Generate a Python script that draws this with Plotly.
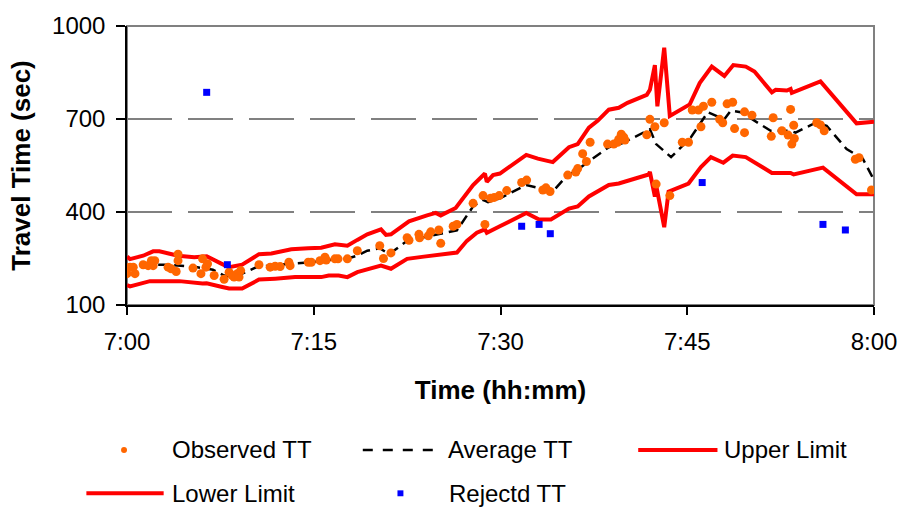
import plotly.graph_objects as go

# Time axis is expressed in minutes after 7:00
tick_minutes = [0, 15, 30, 45, 60]
tick_labels = ["7:00", "7:15", "7:30", "7:45", "8:00"]
y_ticks = [100, 400, 700, 1000]

# Observed travel times (sec)
obs_min = [0.0, 0.0, 0.24, 0.5, 0.64, 1.3, 1.7, 1.96, 2.1, 2.23, 3.3, 3.55, 3.95, 4.1, 4.1,
           5.3, 5.94, 6.07, 6.34, 6.47, 7.0, 7.8, 8.2, 8.46, 8.6, 8.86, 9.0, 9.13, 10.6, 11.5,
           11.9, 12.3, 13.0, 13.1, 14.56, 14.8, 15.5, 15.9, 16.0, 16.7, 16.95, 17.7, 18.5, 20.3,
           20.6, 21.2, 22.5, 22.65, 23.45, 23.5, 24.2, 24.4, 25.05, 25.2, 26.2, 26.5, 27.8, 28.6,
           28.75, 29.2, 29.5, 29.9, 30.5, 31.7, 32.1, 33.4, 33.65, 33.98, 35.4, 36.05, 36.2, 36.6,
           36.9, 37.2, 38.6, 39.1, 39.4, 39.5, 39.7, 39.9, 40.0, 41.75, 42.0, 42.4, 42.5, 43.15,
           43.6, 44.6, 45.1, 45.4, 45.9, 46.1, 46.3, 46.97, 47.6, 47.85, 48.2, 48.65, 48.8, 49.6,
           49.6, 50.2, 51.75, 51.9, 52.6, 53.1, 53.3, 53.4, 53.55, 53.6, 55.4, 55.7, 56.0, 58.5,
           58.8, 59.8]
obs_tt = [219, 201, 222, 222, 201, 230, 227, 243, 227, 243, 222, 217, 208, 264, 243,
          219, 201, 249, 222, 233, 195, 183, 206, 195, 190, 201, 190, 211, 230, 222,
          225, 224, 238, 227, 238, 238, 243, 254, 245, 249, 249, 249, 275, 291,
          250, 268, 317, 309, 328, 317, 323, 336, 342, 299, 354, 360, 428, 453,
          360, 444, 447, 453, 469, 495, 503, 471, 478, 466, 519, 529, 540, 588,
          563, 625, 619, 619, 625, 635, 651, 641, 632, 649, 699, 675, 490, 688,
          453, 625, 625, 729, 729, 675, 741, 754, 699, 688, 749, 754, 669, 723,
          656, 712, 644, 704, 662, 648, 731, 619, 680, 637, 688, 681, 662, 570,
          575, 471]

# Moving average travel time
avg_min = [0, 1.3, 3.0, 4.1, 5.3, 6.9, 7.8, 8.76, 9.25, 10.4, 11.4, 13.2, 14.8, 16.8, 17.8,
           18.5, 19.3, 20.3, 21.06, 22.5, 25.2, 26.5, 27.8, 28.6, 29.0, 29.95, 32.07, 33.3,
           34.2, 35.25, 36.3, 37.4, 38.7, 39.8, 42.0, 42.5, 43.7, 45.3, 46.65, 47.98, 48.5,
           49.3, 51.7, 53.3, 53.7, 55.3, 56.2, 57.8, 59.1, 60]
avg_tt = [213, 230, 230, 227, 224, 214, 195, 190, 201, 222, 227, 233, 238, 248, 251,
          259, 275, 283, 264, 307, 330, 341, 418, 439, 432, 444, 487, 476,
          466, 513, 540, 572, 609, 622, 667, 619, 577, 641, 722, 699, 727,
          722, 662, 662, 656, 688, 678, 603, 572, 503]

# Upper validity limit
up_min = [0, 0.24, 1.3, 2.1, 2.6, 4.1, 5.4, 6.2, 6.4, 7.65, 8.2, 9.25, 10.6, 11.6, 13.2,
          14.56, 15.6, 16.7, 17.7, 18.5, 19.3, 20.4, 20.8, 21.2, 22.65, 24.1, 24.8, 25.2,
          26.4, 27.8, 28.75, 28.9, 29.4, 29.95, 32.07, 33.0, 34.2, 35.5, 36.2, 37.1, 37.8,
          38.7, 39.5, 40.2, 41.75, 42.0, 42.4, 42.6, 43.15, 43.6, 45.2, 46.0, 46.97, 47.98,
          48.7, 49.7, 50.4, 51.8, 52.1, 53.0, 53.3, 53.4, 55.7, 58.6, 60]
up_tt = [256, 248, 259, 273, 273, 259, 254, 259, 257, 232, 222, 230, 264, 266, 280,
         283, 285, 296, 291, 310, 328, 344, 326, 328, 370, 389, 397, 389,
         413, 487, 524, 497, 519, 524, 584, 572, 561, 609, 619, 672, 694,
         730, 736, 752, 778, 794, 874, 741, 930, 710, 747, 816, 869, 839,
         874, 869, 853, 786, 794, 792, 797, 784, 821, 686, 691]

# Lower validity limit
lo_min = [0, 0.24, 1.84, 2.6, 3.9, 4.2, 6.07, 6.4, 7.65, 8.2, 9.25, 10.6, 11.9, 13.5, 15.6,
          16.2, 17.0, 17.7, 18.5, 20.4, 21.2, 22.5, 23.85, 24.9, 26.5, 27.3, 28.1, 28.75,
          28.9, 29.95, 32.07, 33.1, 34.05, 35.5, 36.2, 37.1, 38.7, 39.5, 40.2, 41.9, 42.0,
          42.4, 42.55, 43.15, 43.5, 45.1, 46.1, 46.9, 47.9, 48.65, 49.7, 51.8, 53.3, 53.55,
          55.9, 58.6, 60]
lo_tt = [164, 160, 177, 177, 174, 177, 169, 170, 158, 153, 153, 182, 185, 190, 190,
         195, 195, 190, 206, 227, 217, 249, 256, 261, 269, 307, 333, 344,
         333, 354, 397, 376, 376, 411, 418, 450, 487, 492, 500, 521, 529,
         450, 476, 351, 466, 492, 545, 577, 559, 582, 577, 526, 526, 521,
         543, 457, 457]

# Travel times rejected by the filter
rej_min = [6.4, 8.06, 31.7, 33.1, 34.0, 46.2, 55.9, 57.7]
rej_tt = [786, 230, 354, 360, 330, 495, 360, 342]

RED = "#FF0000"
ORANGE = "#FF6600"
BLUE = "#0000FF"
FONT = "Liberation Sans, Arial, sans-serif"

W, H = 909, 510
L, R, T, B = 127, 28, 22, 205
PW, PH = W - L - R, H - T - B


def px(xp):
    return (xp - L) / PW


def py(yp):
    return (H - B - yp) / PH


fig = go.Figure()
fig.add_trace(go.Scatter(x=up_min, y=up_tt, mode="lines", name="Upper Limit",
                         line=dict(color=RED, width=4)))
fig.add_trace(go.Scatter(x=lo_min, y=lo_tt, mode="lines", name="Lower Limit",
                         line=dict(color=RED, width=4)))
fig.add_trace(go.Scatter(x=avg_min, y=avg_tt, mode="lines", name="Average TT",
                         line=dict(color="black", width=2.5, dash="10px,6px")))
fig.add_trace(go.Scatter(x=obs_min, y=obs_tt, mode="markers", name="Observed TT",
                         marker=dict(color=ORANGE, size=9, symbol="circle")))
fig.add_trace(go.Scatter(x=rej_min, y=rej_tt, mode="markers", name="Rejectd TT",
                         marker=dict(color=BLUE, size=7, symbol="square")))

shapes = [
    # plot-area frame
    dict(type="rect", xref="paper", yref="paper", x0=0, x1=1, y0=0, y1=1,
         line=dict(color="#808080", width=2), layer="below"),
]
annotations = []

# legend entries below the chart
row1, row2 = 452, 496
for x0, x1, y, color, dash, width in [
    (365, 442, row1, "black", "10px,10px", 2.5),
    (643, 723, row1, RED, "solid", 4),
    (86, 164, row2, RED, "solid", 4),
]:
    shapes.append(dict(type="line", xref="paper", yref="paper",
                       x0=px(x0), x1=px(x1), y0=py(y), y1=py(y),
                       line=dict(color=color, width=width, dash=dash)))
shapes.append(dict(type="circle", xref="paper", yref="paper",
                   x0=px(121), x1=px(127), y0=py(row1 - 3), y1=py(row1 + 3),
                   fillcolor=ORANGE, line=dict(width=0)))
shapes.append(dict(type="rect", xref="paper", yref="paper",
                   x0=px(400), x1=px(406), y0=py(row2 - 3), y1=py(row2 + 3),
                   fillcolor=BLUE, line=dict(width=0)))
for x, y, text in [(170, row1, "Observed TT"), (449, row1, "Average TT"),
                   (728, row1, "Upper Limit"), (170, row2, "Lower Limit"),
                   (450, row2, "Rejectd TT")]:
    annotations.append(dict(x=px(x), y=py(y), xref="paper", yref="paper",
                            text=text, showarrow=False, xanchor="left",
                            yanchor="middle", font=dict(family=FONT, size=24, color="black")))

fig.update_layout(
    width=W, height=H,
    margin=dict(l=L, r=R, t=T, b=B, pad=0),
    paper_bgcolor="white", plot_bgcolor="white",
    showlegend=False,
    font=dict(family=FONT, color="black"),
    shapes=shapes, annotations=annotations,
)
fig.update_xaxes(
    range=[0, 60], tickvals=tick_minutes, ticktext=tick_labels,
    showgrid=False, zeroline=False,
    showline=True, linecolor="black", linewidth=1.5,
    ticks="outside", ticklen=8, tickcolor="black", tickwidth=1.5,
    ticklabelstandoff=6,
    tickfont=dict(family=FONT, size=24, color="black"),
    title=dict(text="<b>Time (hh:mm)</b>", font=dict(family=FONT, size=26, color="black"),
               standoff=27),
)
fig.update_yaxes(
    range=[100, 1000], tickvals=y_ticks,
    showgrid=True, gridcolor="#808080", gridwidth=1.5, griddash="45px,16px",
    zeroline=False,
    showline=True, linecolor="black", linewidth=1.5,
    ticks="outside", ticklen=9, tickcolor="black", tickwidth=1.5,
    ticklabelstandoff=6,
    tickfont=dict(family=FONT, size=24, color="black"),
    title=dict(text="<b>Travel Time (sec)</b>", font=dict(family=FONT, size=26, color="black"),
               standoff=14),
)

fig.write_html("out.html")
